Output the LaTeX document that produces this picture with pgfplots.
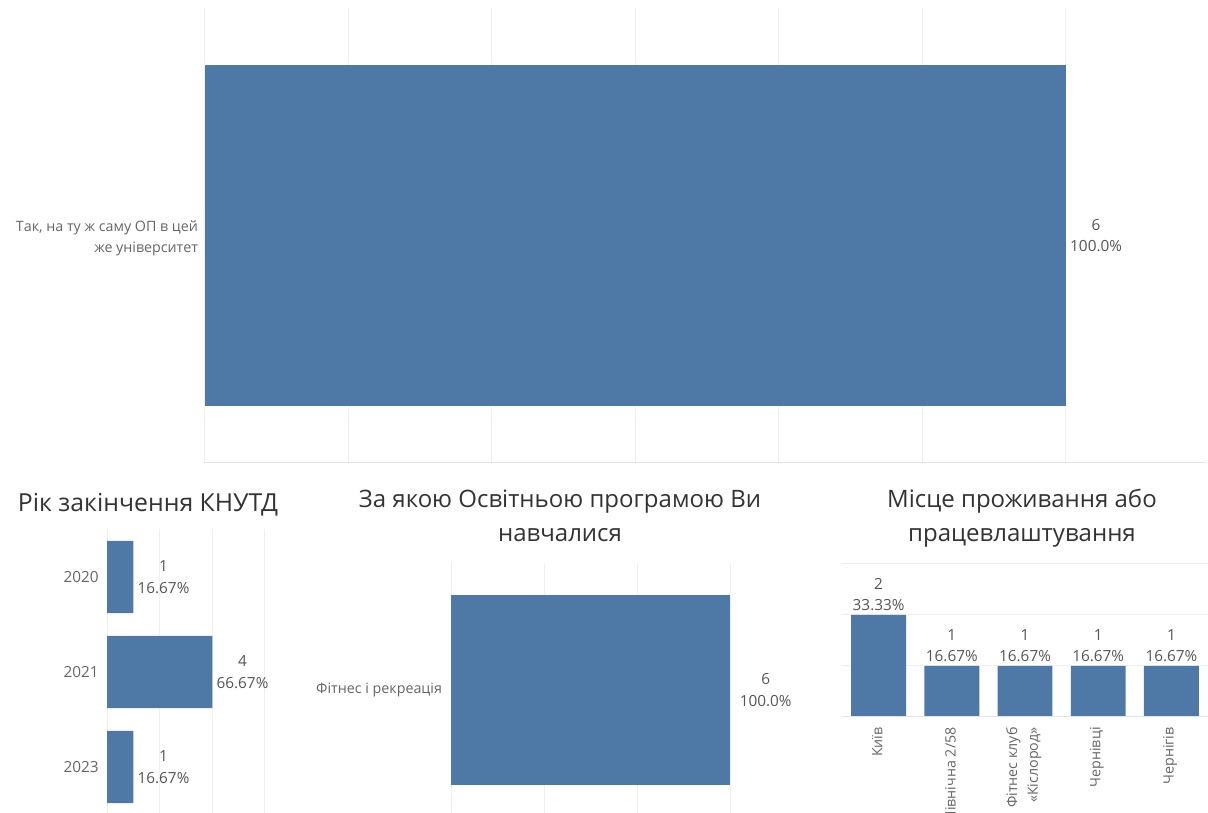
\documentclass[border=0pt]{standalone}
\usepackage{fontspec}
\setmainfont{Open Sans}
\usepackage{pgfplots}
\pgfplotsset{compat=1.18}
\definecolor{barc}{HTML}{4E79A7}
\definecolor{gridc}{HTML}{EFEFEF}
\definecolor{linec}{HTML}{E4E4E4}
\definecolor{labc}{HTML}{666666}
\definecolor{valc}{HTML}{555555}
\definecolor{titc}{HTML}{333333}
\newcommand{\lab}{\fontsize{11.5}{16}\selectfont}
\newcommand{\labs}{\fontsize{10.7}{15.5}\selectfont}
\newcommand{\tit}{\fontsize{18}{26}\selectfont}
\newcommand{\labA}{Так, на ту ж саму ОП в цей\\же університет}
\newcommand{\labB}{Фітнес клуб\\«Кіслород»}
\pgfplotsset{
  tab/.style={
    scale only axis, anchor=south west, clip=false,
    axis line style={draw=none}, tick style={draw=none},
    major grid style={gridc, line width=0.75pt},
    tick label style={font=\lab, text=labc},
    nodes near coords, point meta=explicit symbolic,
    every node near coord/.append style={font=\lab, text=valc, align=center},
  },
  hnodes/.style={every node near coord/.append style={anchor=west, inner sep=3pt}},
  vnodes/.style={every node near coord/.append style={anchor=south, inner sep=3pt}},
  botline/.style={after end axis/.code={\draw[linec, line width=0.75pt] (rel axis cs:0,0) -- (rel axis cs:1,0);}},
}
\begin{document}
\begin{tikzpicture}
\useasboundingbox (0pt,0pt) rectangle (906pt,609.75pt);
\clip (0pt,0pt) rectangle (906pt,609.75pt);
% Panel 1 (top)
\begin{axis}[tab, hnodes, botline, at={(153.75pt,262.5pt)}, width=750.75pt, height=341.25pt,
  xbar, xmin=0, xmax=6.976, ymin=-0.5, ymax=0.5, bar width=0.75,
  xtick={0,...,6}, xticklabels={}, xmajorgrids,
  ytick={0}, yticklabels={\labA},
  yticklabel style={align=right, font=\labs, xshift=2.5pt, yshift=-2pt}]
\addplot[fill=barc, draw=none] coordinates {(6,0) [6\\100.0\%]};
\end{axis}
% Panel 2
\node[font=\fontsize{18.6}{26}\selectfont, text=titc, anchor=base] at (111pt,225.75pt) {Рік закінчення КНУТД};
\begin{axis}[tab, hnodes, at={(80.25pt,-1.125pt)}, width=129.75pt, height=213.75pt,
  xbar, xmin=0, xmax=6.57, ymin=-0.5, ymax=2.5, y dir=reverse, bar width=0.76,
  xtick={0,2,4,6}, xticklabels={}, xmajorgrids,
  ytick={0,1,2}, yticklabels={2020,2021,2023},
  yticklabel style={xshift=1.5pt}]
\addplot[fill=barc, draw=none] coordinates {(1,0) [1\\16.67\%] (4,1) [4\\66.67\%] (1,2) [1\\16.67\%]};
\end{axis}
% Panel 3
\node[font=\tit, text=titc, anchor=base] at (420pt,228.75pt) {За якою Освітньою програмою Ви};
\node[font=\tit, text=titc, anchor=base] at (420pt,203.25pt) {навчалися};
\begin{axis}[tab, hnodes, at={(338.25pt,-3pt)}, width=261.75pt, height=190.5pt,
  xbar, xmin=0, xmax=7.5, ymin=-0.5, ymax=0.5, bar width=0.75,
  xtick={0,2,4,6}, xticklabels={}, xmajorgrids,
  ytick={0}, yticklabels={Фітнес і рекреація},
  yticklabel style={font=\labs, xshift=1pt},
  every node near coord/.append style={xshift=4pt}]
\addplot[fill=barc, draw=none] coordinates {(6,0) [6\\100.0\%]};
\end{axis}
% Panel 4
\node[font=\tit, text=titc, anchor=base] at (766.5pt,228.75pt) {Місце проживання або};
\node[font=\tit, text=titc, anchor=base] at (766.5pt,203.25pt) {працевлаштування};
\begin{axis}[tab, vnodes, botline, at={(631.5pt,72pt)}, width=274.5pt, height=114.75pt,
  ybar, xmin=-0.5, xmax=4.5, ymin=0, ymax=3, bar width=0.75,
  ytick={1,2,3}, yticklabels={}, ymajorgrids,
  xtick={0,1,2,3,4},
  xticklabels={Київ, Північна 2/58, \labB, Чернівці, Чернігів},
  xticklabel style={rotate=90, anchor=east, align=right, font=\labs, yshift=1pt}]
\addplot[fill=barc, draw=none] coordinates {(0,2) [2\\33.33\%] (1,1) [1\\16.67\%] (2,1) [1\\16.67\%] (3,1) [1\\16.67\%] (4,1) [1\\16.67\%]};
\end{axis}
\end{tikzpicture}
\end{document}
